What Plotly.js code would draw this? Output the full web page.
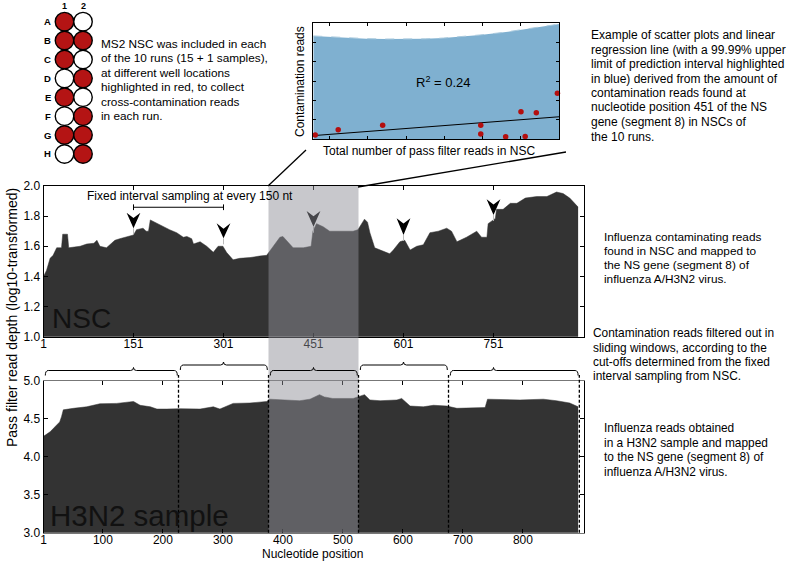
<!DOCTYPE html>
<html><head><meta charset="utf-8">
<script src="https://cdn.plot.ly/plotly-3.0.1.min.js"></script>
<style>html,body{margin:0;padding:0;background:#fff}#chart{width:787px;height:563px}</style>
</head><body><div id="chart"></div>
<script>
// ---------------- data ----------------
const nscPos = [1,6,12,17,23,31,33,41,43,55,62,73,85,90,95,106,115,120,128,139,151,156,167,172,176,179,186,190,201,211,223,234,240,248,251,262,273,284,292,300,306,317,328,345,361,373,384,395,400,406,417,434,447,450,456,467,478,494,517,525,532,536,541,545,553,567,578,584,595,603,612,623,634,645,659,673,681,690,706,723,731,740,742,754,756,767,779,790,804,823,840,856,867,878,890,892];
const nscDepth = [1.40,1.44,1.52,1.54,1.59,1.59,1.68,1.68,1.59,1.595,1.60,1.615,1.62,1.64,1.60,1.59,1.62,1.64,1.65,1.66,1.675,1.71,1.72,1.70,1.70,1.775,1.76,1.75,1.73,1.71,1.69,1.66,1.665,1.65,1.615,1.63,1.60,1.56,1.60,1.60,1.56,1.51,1.52,1.525,1.535,1.54,1.60,1.66,1.665,1.64,1.59,1.59,1.60,1.70,1.75,1.73,1.70,1.70,1.70,1.71,1.75,1.78,1.76,1.69,1.59,1.565,1.55,1.575,1.63,1.64,1.575,1.60,1.61,1.69,1.70,1.72,1.70,1.63,1.66,1.70,1.66,1.66,1.75,1.785,1.845,1.845,1.885,1.885,1.92,1.93,1.93,1.96,1.95,1.92,1.87,1.86];

const h3n2Pos = [1,12,23,28,31,34,51,73,95,123,151,162,179,190,206,228,262,284,295,317,345,373,378,406,428,445,461,469,483,517,536,545,562,590,598,612,634,651,673,690,717,737,741,773,795,834,856,878,890,892];
const h3n2Depth = [4.27,4.33,4.42,4.46,4.53,4.62,4.64,4.66,4.70,4.705,4.73,4.68,4.66,4.63,4.63,4.635,4.63,4.66,4.63,4.705,4.71,4.73,4.76,4.75,4.74,4.76,4.82,4.79,4.77,4.77,4.82,4.75,4.74,4.75,4.77,4.67,4.66,4.68,4.67,4.64,4.65,4.65,4.76,4.75,4.75,4.76,4.74,4.71,4.67,4.66];

const nscTicks = [1,151,301,451,601,751];
const h3n2Ticks = [1,100,200,300,400,500,600,700,800];
const samplePos = [151,301,451,601,751];
const windowEdges = [1,226,376,526,676,894];

const wellCols = [1,2,1,2,1,2,1,2,1,2,1,2,1,2,1,2];
const wellRows = [0,0,1,1,2,2,3,3,4,4,5,5,6,6,7,7];
const wellUsed = [1,0,1,1,1,0,0,1,1,0,0,1,1,1,0,1];
const rowLabels = ['A','B','C','D','E','F','G','H'];
const colLabels = ['1','2'];

const runReadsX = [-0.37,0.23,1.39,3.95,3.95,4.60,5.11,5.00,5.40,5.95];
const runContamY = [0.22,0.49,0.72,0.72,0.27,0.13,0.15,1.42,1.37,2.37];
const fitX = [-0.42,6.0];
const fitY = [0.19,1.16];
const upperX = [-0.42,0.3,0.97,1.5,2.02,2.5,2.97,3.5,3.93,4.5,4.98,5.5,6.0];
const upperY = [5.32,5.24,5.18,5.16,5.15,5.17,5.21,5.28,5.37,5.49,5.63,5.78,5.93];

const noteWells = ['MS2 NSC was included in each','of the 10 runs (15 + 1 samples),','at different well locations','highlighted in red, to collect','cross-contamination reads','in each run.'];
const noteInset = ['Example of scatter plots and linear','regression line (with a 99.99% upper','limit of prediction interval highlighted','in blue) derived from the amount of','contamination reads found at','nucleotide position 451 of the NS','gene (segment 8) in NSCs of','the 10 runs.'];
const noteNsc = ['Influenza contaminating reads','found in NSC and mapped to','the NS gene (segment 8) of','influenza A/H3N2 virus.'];
const noteFilter = ['Contamination reads filtered out in','sliding windows, according to the','cut-offs determined from the fixed','interval sampling from NSC.'];
const noteSample = ['Influenza reads obtained','in a H3N2 sample and mapped','to the NS gene (segment 8) of','influenza A/H3N2 virus.'];

// ---------------- layout helpers ----------------
const W = 787, H = 563;
const fx = p => p / W;
const fy = p => 1 - p / H;
const FONT = 'Liberation Sans, Arial, Helvetica, sans-serif';
const DARK = '#333333';

const traces = [
  {x: nscPos, y: nscDepth, xaxis:'x', yaxis:'y', type:'scatter', mode:'lines',
   fill:'tozeroy', fillcolor:DARK, line:{color:DARK, width:0.5}, hoverinfo:'skip'},
  {x: h3n2Pos, y: h3n2Depth, xaxis:'x2', yaxis:'y2', type:'scatter', mode:'lines',
   fill:'tozeroy', fillcolor:DARK, line:{color:DARK, width:0.5}, hoverinfo:'skip'},
  {x: wellCols, y: wellRows, xaxis:'x3', yaxis:'y3', type:'scatter', mode:'markers', cliponaxis:false,
   marker:{size:18.5, color: wellUsed.map(v => v ? '#b41414' : '#ffffff'), line:{color:'#000', width:1.4}}, hoverinfo:'skip'},
  {x: upperX, y: upperY, xaxis:'x4', yaxis:'y4', type:'scatter', mode:'lines',
   fill:'tozeroy', fillcolor:'#7fb0d0', line:{color:'#a9c9dd', width:1, dash:'dash'}, hoverinfo:'skip'},
  {x: fitX, y: fitY, xaxis:'x4', yaxis:'y4', type:'scatter', mode:'lines',
   line:{color:'#000', width:1}, hoverinfo:'skip'},
  {x: runReadsX, y: runContamY, xaxis:'x4', yaxis:'y4', type:'scatter', mode:'markers', cliponaxis:false,
   marker:{size:5.5, color:'#b40f0f'}, hoverinfo:'skip'}
];

const xDom = [fx(43.5), fx(584)];
const xRange = [1, 901.8];
const axBase = {showgrid:false, zeroline:false, showline:true, linecolor:'#000', linewidth:1,
  ticks:'inside', ticklen:4, tickcolor:'#000', mirror:'ticks',
  tickfont:{family:FONT, size:12, color:'#000'}};

const layout = {
  width: W, height: H, margin:{l:0,r:0,t:0,b:0}, showlegend:false,
  paper_bgcolor:'#fff', plot_bgcolor:'rgba(0,0,0,0)',
  font:{family:FONT, size:12, color:'#000'},
  xaxis: Object.assign({}, axBase, {domain:xDom, range:xRange, anchor:'y', tickvals:nscTicks, ticklabelstandoff:-4}),
  yaxis: Object.assign({}, axBase, {domain:[fy(336.7), fy(186)], range:[1,2], anchor:'x', dtick:0.2, tick0:1, tickformat:'.1f'}),
  xaxis2: Object.assign({}, axBase, {domain:xDom, range:xRange, anchor:'y2', tickvals:h3n2Ticks, linecolor:'#777', ticklabelstandoff:-4}),
  yaxis2: Object.assign({}, axBase, {domain:[fy(532.7), fy(381)], range:[3,5], anchor:'x2', dtick:0.5, tick0:3, tickformat:'.1f'}),
  xaxis3: {domain:[fx(40), fx(100)], range:[-0.324, 2.919], anchor:'y3', visible:false},
  yaxis3: {domain:[fy(170), fy(2)], range:[7.85, -1.04], anchor:'x3', visible:false},
  xaxis4: Object.assign({}, axBase, {domain:[fx(313.3), fx(559.3)], range:[-0.42, 6.0], anchor:'y4', dtick:1, tick0:0, showticklabels:false, ticklen:3}),
  yaxis4: Object.assign({}, axBase, {domain:[fy(139.3), fy(22.7)], range:[0, 6], anchor:'x4', dtick:1, tick0:0, showticklabels:false, ticklen:3}),
  shapes: [], annotations: []
};

// arrowheads over the NSC sampling points (tip / top values on the NSC y scale)
const arrowTip = [1.72, 1.653, 1.73, 1.675, 1.808];
const arrowTop = [1.823, 1.752, 1.834, 1.786, 1.912];
samplePos.forEach((n, i) => {
  const w = 11.5, t = arrowTip[i], T = arrowTop[i], d = 0.035;
  layout.shapes.push({type:'line', xref:'x', yref:'y', x0:n, x1:n, y0:t, y1:t-0.04, line:{color:'#bbb', width:1}, layer:'above'});
  layout.shapes.push({type:'path', xref:'x', yref:'y', layer:'above',
    path:`M${n-w},${T} L${n},${T-d} L${n+w},${T} L${n},${t} Z`, fillcolor:'#000', line:{width:0}});
});
// fixed interval bracket
layout.shapes.push({type:'path', xref:'x', yref:'y', layer:'above', line:{color:'#000', width:1},
  path:`M${samplePos[0]},1.878 L${samplePos[0]},1.84 M${samplePos[0]},1.859 L${samplePos[1]},1.859 M${samplePos[1]},1.878 L${samplePos[1]},1.84`});

// grey highlight of the 451 window across both panels
layout.shapes.push({type:'rect', xref:'x', yref:'paper', x0:windowEdges[2], x1:windowEdges[3],
  y0:fy(532.7), y1:fy(186), fillcolor:'rgb(142,142,150)', opacity:0.49, line:{width:0}, layer:'above'});

// braces above the H3N2 panel
const bracePx = [370.5, 365, 370.5, 365, 370.5];
for (let i = 0; i < samplePos.length; i++) {
  const x0 = windowEdges[i] + 3, x1 = windowEdges[i+1] - 2, tip = samplePos[i];
  const yl = fy(bracePx[i]), dn = fy(bracePx[i] + 5), up = fy(bracePx[i] - 3), r = 5;
  layout.shapes.push({type:'path', xref:'x2', yref:'paper', layer:'above', line:{color:'#000', width:1},
    path:`M${x0},${dn} Q${x0},${yl} ${x0+r},${yl} L${tip-r},${yl} Q${tip},${yl} ${tip},${up} Q${tip},${yl} ${tip+r},${yl} L${x1-r},${yl} Q${x1},${yl} ${x1},${dn}`});
}
// dashed window boundaries
windowEdges.slice(1).forEach((e) => {
  layout.shapes.push({type:'line', xref:'x2', yref:'paper', x0:e, x1:e, y0:fy(532.7), y1:fy(375),
    line:{color:'#000', width:1.3, dash:'3px,2px'}, layer:'above'});
});
// connectors from inset to highlighted window
layout.shapes.push({type:'line', xref:'paper', yref:'paper', x0:fx(268), y0:fy(186), x1:fx(306), y1:fy(150), line:{color:'#000', width:1.3}});
layout.shapes.push({type:'line', xref:'paper', yref:'paper', x0:fx(358), y0:fy(187), x1:fx(566), y1:fy(152), line:{color:'#000', width:1.3}});

// annotations
const ann = (text, px, py, opts) => Object.assign({text, xref:'paper', yref:'paper', x:fx(px), y:fy(py),
  showarrow:false, xanchor:'left', yanchor:'middle', align:'left', borderpad:0, font:{family:FONT, size:12, color:'#000'}}, opts || {});
const block = (lines, px, py0, step, size) => lines.forEach((t, i) =>
  layout.annotations.push(ann(t, px, py0 + i * step, {font:{family:FONT, size, color:'#000'}})));

block(noteWells, 99.5, 43.5, 14.6, 11.8);
block(noteInset, 590, 35, 14.5, 12.0);
block(noteNsc, 603, 236.7, 14.2, 11.8);
block(noteFilter, 592, 333.3, 14.2, 11.9);
block(noteSample, 603, 428.3, 14.5, 11.9);

// well plate labels
rowLabels.forEach((t, i) => layout.annotations.push({text:t, xref:'x3', yref:'y3', x:0.108, y:i, showarrow:false,
  xanchor:'center', yanchor:'middle', font:{family:FONT, size:9.5, weight:'bold', color:'#000'}}));
colLabels.forEach((t, i) => layout.annotations.push({text:t, xref:'x3', yref:'y3', x:i + 1, y:-0.83, showarrow:false,
  xanchor:'center', yanchor:'middle', font:{family:FONT, size:9, weight:'bold', color:'#000'}}));

layout.annotations.push(
  ann('R<sup>2</sup> = 0.24', 443, 82, {xanchor:'center', font:{family:FONT, size:13}}),
  ann('Contamination reads', 300, 82, {xanchor:'center', textangle:-90}),
  ann('Total number of pass filter reads in NSC', 429, 151, {xanchor:'center', font:{family:FONT, size:12}}),
  ann('Fixed interval sampling at every 150 nt', 86, 196),
  ann('NSC', 51, 318, {font:{family:FONT, size:28, color:'#111'}}),
  ann('H3N2 sample', 49, 515, {font:{family:FONT, size:29.5, color:'#111'}}),
  ann('Pass filter read depth (log10-transformed)', 12, 318, {xanchor:'center', textangle:-90, font:{family:FONT, size:14}}),
  ann('Nucleotide position', 312, 554, {xanchor:'center'})
);

Plotly.newPlot('chart', traces, layout, {staticPlot:true, displayModeBar:false});
</script>
</body></html>
